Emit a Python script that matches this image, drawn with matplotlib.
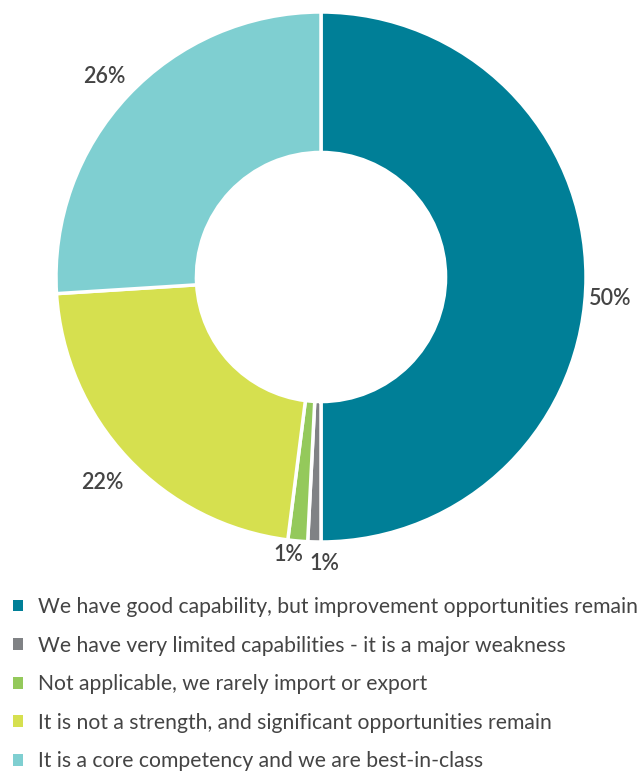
import matplotlib
matplotlib.use("Agg")
import matplotlib.pyplot as plt
import numpy as np

labels = [
    "We have good capability, but improvement opportunities remain",
    "We have very limited capabilities - it is a major weakness",
    "Not applicable, we rarely import or export",
    "It is not a strength, and significant opportunities remain",
    "It is a core competency and we are best-in-class",
]
values = [50, 0.8, 1.2, 22, 26]
pct_labels = ["50%", "1%", "1%", "22%", "26%"]
colors = ["#007f97", "#808285", "#94c95b", "#d6e04f", "#7fcfd1"]

plt.rcParams["font.family"] = ["Lato", "DejaVu Sans"]
text_color = "#444444"

fig = plt.figure(figsize=(6.39, 7.71), dpi=100)
W, H = 639, 771
cx, cy, r = 321, 277, 265
ax = fig.add_axes([(cx - r) / W, (H - cy - r) / H, 2 * r / W, 2 * r / H])

wedges, _ = ax.pie(values, colors=colors, startangle=90, counterclock=False,
                   radius=1, wedgeprops=dict(width=0.53, edgecolor="white", linewidth=2.5))
ax.set_xlim(-1, 1)
ax.set_ylim(-1, 1)
ax.set_aspect("equal")
ax.axis("off")

# percentage labels around the ring
nudges = [(-0.03, -0.08), (0.04, 0.0), (-0.03, 0.03), (-0.01, -0.01), (0, -0.01)]
for w, txt, (dx, dy) in zip(wedges, pct_labels, nudges):
    ang = np.deg2rad((w.theta1 + w.theta2) / 2)
    rr = 1.12 if w.theta2 - w.theta1 > 10 else 1.08
    ax.text(rr * np.cos(ang) + dx, rr * np.sin(ang) + dy, txt, ha="center", va="center",
            fontsize=15.5, color=text_color, fontweight="semibold")

leg = fig.legend(wedges, labels, loc="upper left", bbox_to_anchor=(13 / W, 1 - 597 / H),
                 frameon=False, fontsize=15.2, handlelength=0.48, handleheight=0.48,
                 handletextpad=0.72, labelspacing=0.88, borderaxespad=0, borderpad=0)
for t in leg.get_texts():
    t.set_color(text_color)
for h in leg.legend_handles:
    h.set_edgecolor("none")

fig.savefig("out.png", dpi=100)
